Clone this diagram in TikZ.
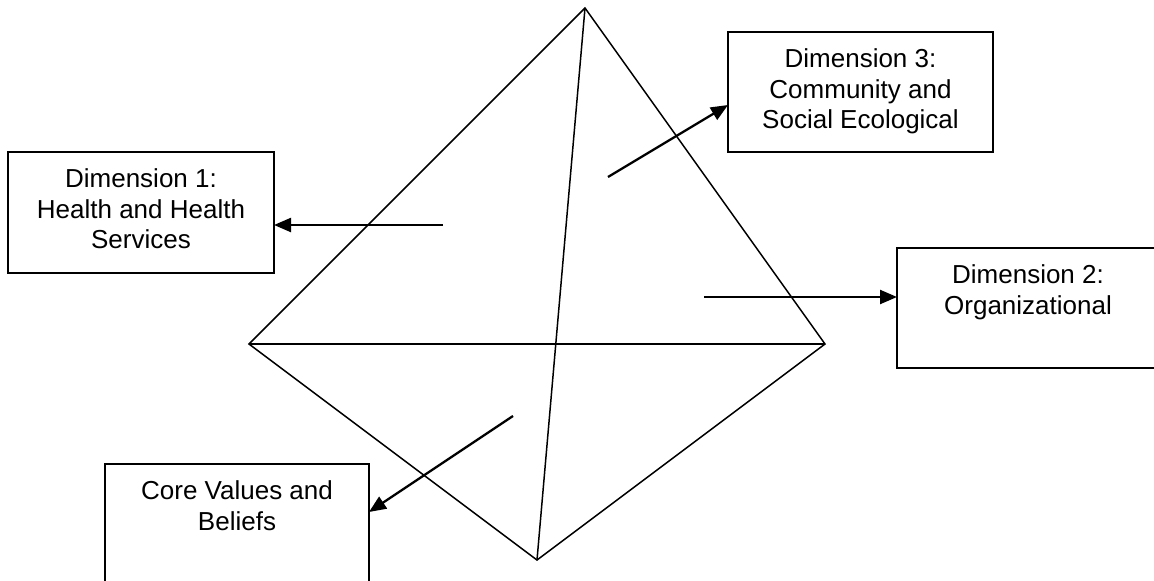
\documentclass[tikz,border=0pt]{standalone}
\usepackage{fontspec}
\setmainfont{Liberation Sans}
\usetikzlibrary{arrows.meta}
\begin{document}
\begin{tikzpicture}[x=1pt,y=-1pt,
  edge/.style={line width=1.5pt, line join=miter},
  dimbox/.style={draw, line width=2pt, rectangle, inner sep=0pt, outer sep=0pt},
  lbl/.style={align=center, inner sep=0pt, anchor=north, font=\fontsize{26}{30.5}\selectfont},
  arr/.style={line width=2.3pt, -{Triangle[length=17pt,width=14pt]}}]
\useasboundingbox (0,0) rectangle (1154,581);
\clip (0,0) rectangle (1154,581);
\fill[white] (0,0) rectangle (1154,581);
% pyramid
\coordinate (A) at (585,8);
\coordinate (L) at (249,344);
\coordinate (R) at (825,344);
\coordinate (B) at (537,560);
\draw[edge] (A) -- (L) -- (B) -- (R) -- cycle;
\draw[edge] (L) -- (R);
\draw[edge] (A) -- (B);
% boxes
\node[dimbox, minimum width=266pt, minimum height=121pt] (d1) at (141,212.5) {};
\node[dimbox, minimum width=265pt, minimum height=120pt] (d3) at (860.5,92) {};
\node[dimbox, minimum width=262pt, minimum height=120pt] (d2) at (1028,308) {};
\node[dimbox, minimum width=264pt, minimum height=121pt] (cv) at (237,524.5) {};
\node[lbl] (t1) at ([yshift=-16.8pt]d1.north) {Dimension 1:\\Health and Health\\Services};
\node[lbl] (t3) at ([yshift=-16.8pt]d3.north) {Dimension 3:\\Community and\\Social Ecological};
\node[lbl] (t2) at ([yshift=-16.8pt]d2.north) {Dimension 2:\\Organizational};
\node[lbl] (t4) at ([yshift=-16.8pt]cv.north) {Core Values and\\Beliefs};
% arrows
\coordinate (s1) at (443,225);
\coordinate (s3) at (608,177);
\coordinate (s2) at (704,297);
\coordinate (s4) at (513,416);
\draw[arr] (s1) -- (s1 -| d1.east);
\draw[arr] (s3) -- ([yshift=-13pt]d3.west);
\draw[arr] (s2) -- (s2 -| d2.west);
\draw[arr] (s4) -- ([yshift=-48pt]cv.north east);
\end{tikzpicture}
\end{document}
